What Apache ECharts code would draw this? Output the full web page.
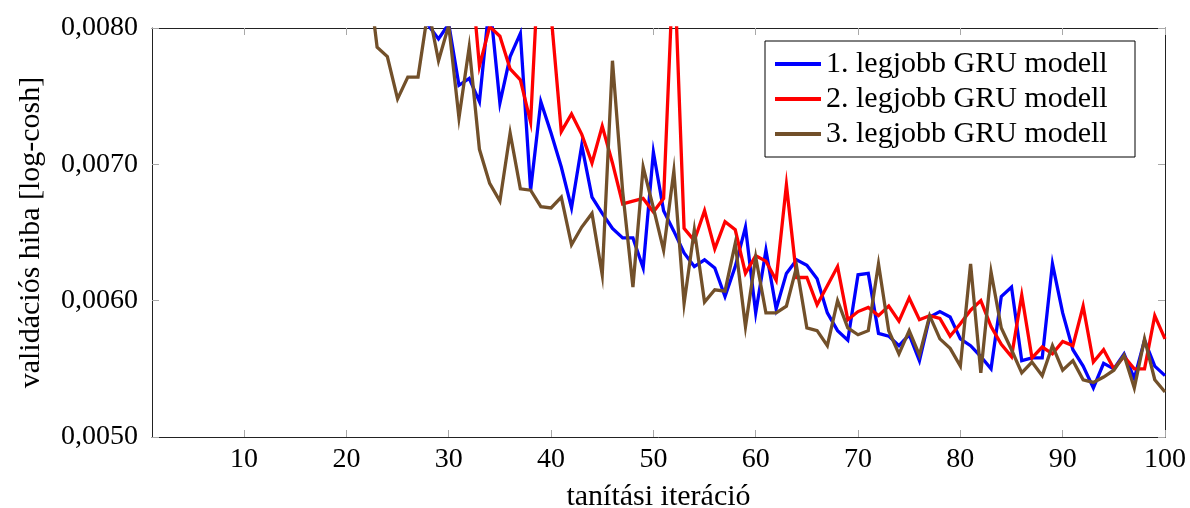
<!DOCTYPE html>
<html>
<head>
<meta charset="utf-8">
<script src="https://cdn.jsdelivr.net/npm/echarts@6/dist/echarts.min.js"></script>
<style>
  html, body { margin: 0; padding: 0; background: #fff; }
  #chart { width: 1190px; height: 508px; }
</style>
</head>
<body>
<div id="chart"></div>
<script>
// Validation loss (log-cosh) per training iteration for the three best GRU models
const seriesNames = ['1. legjobb GRU modell', '2. legjobb GRU modell', '3. legjobb GRU modell'];

const gru1 = [
  0.0290, 0.0215, 0.0178, 0.0160, 0.0148, 0.0139, 0.0131, 0.0125, 0.0120, 0.0115,
  0.0111, 0.0107, 0.0104, 0.0101, 0.0099, 0.0097, 0.0095, 0.0093, 0.0092, 0.0090,
  0.0089, 0.0088, 0.0087, 0.0086, 0.0085, 0.0084, 0.0083, 0.00802, 0.00792, 0.00803,
  0.00758, 0.00763, 0.00746, 0.00820, 0.00745, 0.00779, 0.00796, 0.00681, 0.00746, 0.00723,
  0.00698, 0.00668, 0.00714, 0.00676, 0.00664, 0.00653, 0.00646, 0.00646, 0.00624, 0.00709,
  0.00666, 0.00651, 0.00635, 0.00625, 0.00630, 0.00624, 0.00603, 0.00625, 0.00654, 0.00591,
  0.00637, 0.00594, 0.00620, 0.00630, 0.00626, 0.00616, 0.00591, 0.00578, 0.00571, 0.00619,
  0.00620, 0.00576, 0.00574, 0.00567, 0.00575, 0.00556, 0.00588, 0.00592, 0.00588, 0.00572,
  0.00567, 0.00559, 0.00550, 0.00603, 0.00610, 0.00556, 0.00558, 0.00558, 0.00627, 0.00591,
  0.00564, 0.00552, 0.00536, 0.00554, 0.00550, 0.00561, 0.00543, 0.00571, 0.00552, 0.00545
];

const gru2 = [
  0.0420, 0.0330, 0.0270, 0.0232, 0.0205, 0.0184, 0.0168, 0.0155, 0.0145, 0.0137,
  0.0130, 0.0124, 0.0119, 0.0115, 0.0111, 0.0108, 0.0105, 0.0102, 0.0100, 0.0098,
  0.0096, 0.0094, 0.0093, 0.0092, 0.0091, 0.0090, 0.0089, 0.0088, 0.0087, 0.0087,
  0.0086, 0.00857, 0.00772, 0.00801, 0.00794, 0.00770, 0.00762, 0.00731, 0.00878, 0.00810,
  0.00724, 0.00737, 0.00722, 0.00701, 0.00728, 0.00701, 0.00671, 0.00673, 0.00675, 0.00665,
  0.00675, 0.00855, 0.00653, 0.00644, 0.00666, 0.00638, 0.00658, 0.00652, 0.00620, 0.00633,
  0.00629, 0.00615, 0.00685, 0.00617, 0.00617, 0.00597, 0.00611, 0.00625, 0.00586, 0.00592,
  0.00595, 0.00589, 0.00596, 0.00585, 0.00602, 0.00586, 0.00589, 0.00587, 0.00574, 0.00583,
  0.00593, 0.00600, 0.00581, 0.00568, 0.00559, 0.00604, 0.00558, 0.00566, 0.00561, 0.00570,
  0.00567, 0.00596, 0.00555, 0.00564, 0.00550, 0.00559, 0.00550, 0.00550, 0.00589, 0.00572
];

const gru3 = [
  0.0350, 0.0260, 0.0210, 0.0180, 0.0160, 0.0145, 0.0133, 0.0123, 0.0115, 0.0108,
  0.0103, 0.0099, 0.0095, 0.0092, 0.0090, 0.0088, 0.0087, 0.0086, 0.0086, 0.0085,
  0.0085, 0.00847, 0.00786, 0.00779, 0.00748, 0.00764, 0.00764, 0.00814, 0.00776, 0.00802,
  0.00734, 0.00786, 0.00711, 0.00686, 0.00673, 0.00723, 0.00682, 0.00681, 0.00669, 0.00668,
  0.00676, 0.00641, 0.00654, 0.00664, 0.00619, 0.00776, 0.00680, 0.00610, 0.00698, 0.00668,
  0.00637, 0.00695, 0.00598, 0.00652, 0.00599, 0.00608, 0.00607, 0.00642, 0.00581, 0.00632,
  0.00591, 0.00591, 0.00596, 0.00625, 0.00580, 0.00578, 0.00567, 0.00600, 0.00580, 0.00575,
  0.00578, 0.00627, 0.00578, 0.00561, 0.00578, 0.00560, 0.00589, 0.00572, 0.00565, 0.00552,
  0.00627, 0.00547, 0.00621, 0.00580, 0.00564, 0.00547, 0.00555, 0.00545, 0.00567, 0.00549,
  0.00556, 0.00542, 0.00540, 0.00544, 0.00549, 0.00560, 0.00536, 0.00572, 0.00542, 0.00533
];

const xTicks = [10, 20, 30, 40, 50, 60, 70, 80, 90, 100];
const yTicks = [0.005, 0.006, 0.007, 0.008];
const seriesColors = ['#0000ff', '#ff0000', '#72502a'];

const FONT = 'Liberation Serif';
const TICK_SIZE = 28;
const NAME_SIZE = 30;

function pairs(values) {
  return values.map((v, i) => [i + 1, v]);
}

const tickStyle = { color: '#a8a8a8', width: 1 };
const frameLine = { show: true, onZero: false, lineStyle: { color: '#222', width: 1 } };

function xAxisDef(pos, showLabels) {
  return {
    type: 'value', position: pos, min: 1, max: 100,
    axisLine: frameLine,
    axisTick: { show: true, inside: true, length: 7, lineStyle: tickStyle, customValues: xTicks },
    axisLabel: {
      show: showLabels, customValues: xTicks, margin: 9,
      fontFamily: FONT, fontSize: TICK_SIZE, color: '#000'
    },
    splitLine: { show: false },
    name: showLabels ? 'tanítási iteráció' : '',
    nameLocation: 'middle', nameGap: 45,
    nameTextStyle: { fontFamily: FONT, fontSize: NAME_SIZE, color: '#000' }
  };
}

function yAxisDef(pos, showLabels) {
  return {
    type: 'value', position: pos, min: yTicks[0], max: yTicks[yTicks.length - 1], interval: 0.001,
    axisLine: frameLine,
    axisTick: { show: true, inside: true, length: 7, lineStyle: tickStyle },
    axisLabel: {
      show: showLabels, margin: 14, padding: [0, 0, 4, 0],
      fontFamily: FONT, fontSize: TICK_SIZE, color: '#000',
      formatter: v => v.toFixed(4).replace('.', ',')
    },
    splitLine: { show: false },
    name: showLabels ? 'validációs hiba [log-cosh]' : '',
    nameLocation: 'middle', nameGap: 106, nameRotate: 90,
    nameTextStyle: { fontFamily: FONT, fontSize: NAME_SIZE, color: '#000' }
  };
}

const chart = echarts.init(document.getElementById('chart'), null, { renderer: 'canvas' });

chart.setOption({
  animation: false,
  backgroundColor: '#fff',
  grid: {
    left: 152, right: 25, top: 28, bottom: 71,
    containLabel: false, outerBoundsMode: 'none'
  },
  xAxis: [xAxisDef('bottom', true), xAxisDef('top', false)],
  yAxis: [yAxisDef('left', true), yAxisDef('right', false)],
  legend: {
    orient: 'vertical', left: 765, top: 41,
    backgroundColor: '#fff', borderColor: '#000', borderWidth: 1, borderRadius: 0,
    padding: [8, 14, 8, 10],
    itemWidth: 46, itemHeight: 4, itemGap: 5,
    icon: 'rect',
    textStyle: { fontFamily: FONT, fontSize: NAME_SIZE, color: '#000', lineHeight: 30, width: 295 },
    data: seriesNames
  },
  series: [gru1, gru2, gru3].map((vals, k) => ({
    name: seriesNames[k],
    type: 'line',
    data: pairs(vals),
    xAxisIndex: 0, yAxisIndex: 0,
    symbol: 'none',
    clip: true,
    color: seriesColors[k],
    lineStyle: { color: seriesColors[k], width: 3.3, join: 'miter' }
  }))
});
</script>
</body>
</html>
